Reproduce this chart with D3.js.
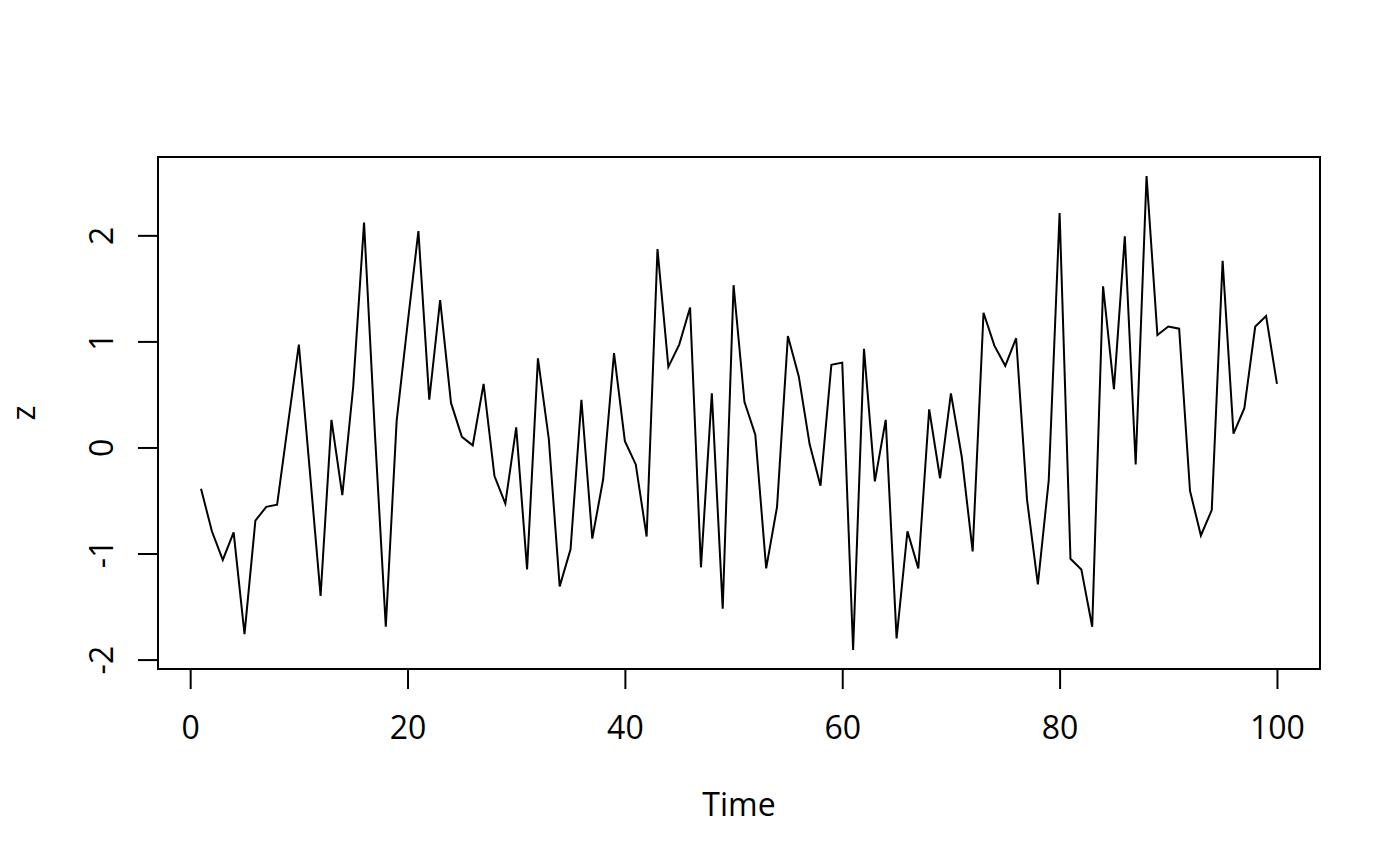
<!DOCTYPE html>
<html>
<head>
<meta charset="utf-8">
<script src="https://cdn.jsdelivr.net/npm/d3@7"></script>
<style>
  html, body { margin: 0; padding: 0; background: #fff; }
  svg { display: block; }
  text { font-family: "Open Sans", "Noto Sans", sans-serif; fill: #000; }
</style>
</head>
<body>
<svg id="chart" width="1400" height="866"></svg>
<script>
// Series z (time 1..100)
const zValues = [
  -0.39, -0.79, -1.06, -0.80, -1.76, -0.69, -0.56, -0.54, 0.22, 0.97,
  -0.21, -1.40, 0.26, -0.45, 0.57, 2.12, 0.13, -1.69, 0.25, 1.16,
  2.04, 0.45, 1.39, 0.42, 0.10, 0.02, 0.60, -0.27, -0.53, 0.19,
  -1.15, 0.84, 0.08, -1.31, -0.96, 0.45, -0.86, -0.30, 0.89, 0.06,
  -0.16, -0.84, 1.87, 0.76, 0.97, 1.32, -1.13, 0.51, -1.52, 1.53,
  0.43, 0.12, -1.14, -0.56, 1.05, 0.67, 0.03, -0.36, 0.78, 0.80,
  -1.91, 0.93, -0.32, 0.26, -1.80, -0.79, -1.14, 0.36, -0.29, 0.51,
  -0.09, -0.98, 1.27, 0.96, 0.77, 1.03, -0.49, -1.29, -0.31, 2.21,
  -1.05, -1.15, -1.69, 1.52, 0.55, 1.99, -0.16, 2.56, 1.06, 1.14,
  1.12, -0.41, -0.83, -0.59, 1.76, 0.13, 0.37, 1.14, 1.24, 0.60
];
const timeIndex = zValues.map((_, i) => i + 1);
const xTickValues = [0, 20, 40, 60, 80, 100];
const yTickValues = [-2, -1, 0, 1, 2];
const xLabel = "Time";
const yLabel = "z";

const svg = d3.select("#chart");
const box = { left: 158, right: 1320, top: 157, bottom: 669 };

// R-style 4% axis extension
function extend(ext) {
  const d = (ext[1] - ext[0]) * 0.04;
  return [ext[0] - d, ext[1] + d];
}
const x = d3.scaleLinear().domain(extend(d3.extent(timeIndex))).range([box.left, box.right]);
const y = d3.scaleLinear().domain(extend(d3.extent(zValues))).range([box.bottom, box.top]);

// line
const line = d3.line().x((d, i) => x(timeIndex[i])).y(d => y(d));
svg.append("path")
  .datum(zValues)
  .attr("d", line)
  .attr("fill", "none")
  .attr("stroke", "#000")
  .attr("stroke-width", 2)
  .attr("stroke-linejoin", "miter");

// x axis
const gx = svg.append("g")
  .attr("transform", `translate(0,${box.bottom})`)
  .call(d3.axisBottom(x).tickValues(xTickValues).tickSize(20).tickFormat(d3.format("d")));
gx.select(".domain").remove();
gx.selectAll(".tick line").attr("stroke", "#000").attr("stroke-width", 2);
gx.selectAll(".tick text")
  .attr("y", 70).attr("dy", 0)
  .attr("font-size", 32)
  .attr("font-family", '"Open Sans", "Noto Sans", sans-serif')
  .attr("fill", "#000");

// y axis
const gy = svg.append("g")
  .attr("transform", `translate(${box.left},0)`)
  .call(d3.axisLeft(y).tickValues(yTickValues).tickSize(20).tickFormat(d3.format("d")));
gy.select(".domain").remove();
gy.selectAll(".tick line").attr("stroke", "#000").attr("stroke-width", 2);
gy.selectAll(".tick text")
  .attr("x", 0).attr("dy", 0)
  .attr("text-anchor", "middle")
  .attr("transform", "translate(-45,0) rotate(-90)")
  .attr("font-size", 32)
  .attr("font-family", '"Open Sans", "Noto Sans", sans-serif')
  .attr("fill", "#000")
  .text(d => d < 0 ? "-" + Math.abs(d) : String(d));

// box
svg.append("rect")
  .attr("x", box.left).attr("y", box.top)
  .attr("width", box.right - box.left).attr("height", box.bottom - box.top)
  .attr("fill", "none").attr("stroke", "#000").attr("stroke-width", 2);

// axis titles
svg.append("text")
  .attr("x", (box.left + box.right) / 2).attr("y", 816)
  .attr("text-anchor", "middle").attr("font-size", 32)
  .text(xLabel);
svg.append("text")
  .attr("transform", `translate(35,${(box.top + box.bottom) / 2}) rotate(-90)`)
  .attr("text-anchor", "middle").attr("font-size", 32)
  .text(yLabel);
</script>
</body>
</html>
